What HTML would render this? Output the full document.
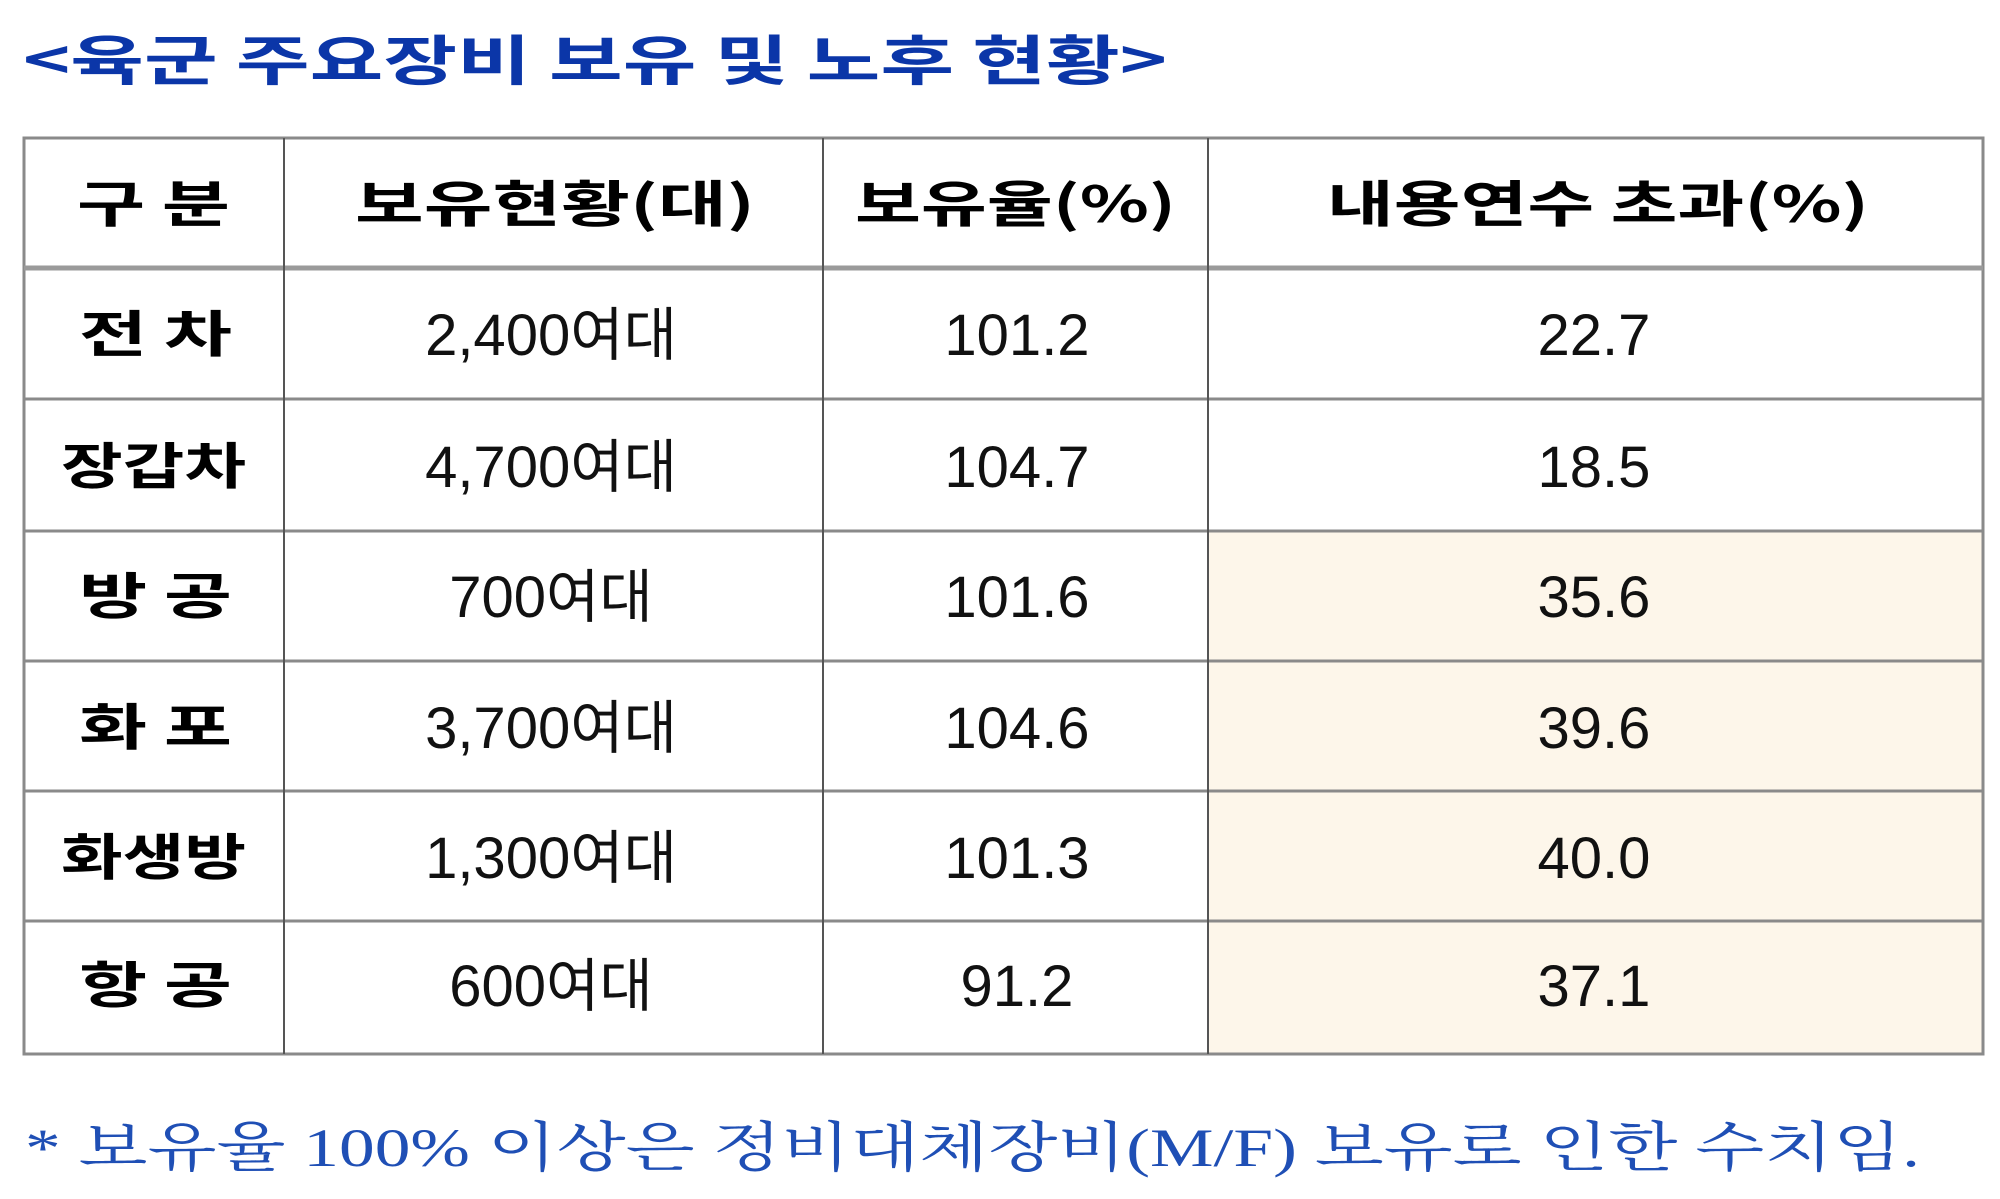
<!DOCTYPE html>
<html><head><meta charset="utf-8"><style>
html,body{margin:0;padding:0;background:#fff;}
svg{display:block;}
</style></head><body>
<svg width="2000" height="1199" viewBox="0 0 2000 1199" xmlns="http://www.w3.org/2000/svg">
<rect width="2000" height="1199" fill="#fff"/>
<text x="23" y="80" font-family="'Noto Sans CJK KR',sans-serif" font-weight="bold" font-size="54" fill="#0b36a8" textLength="1144" lengthAdjust="spacingAndGlyphs">&lt;육군 주요장비 보유 및 노후 현황&gt;</text>
<!-- highlighted cells -->
<rect x="1209" y="531" width="774" height="523" fill="#fdf6ea"/>
<!-- grid -->
<g stroke="#8a8a8a" stroke-width="3" fill="none">
<rect x="24" y="138" width="1959" height="916"/>
<line x1="24" y1="268" x2="1983" y2="268" stroke-width="5" stroke="#9a9a9a"/>
<line x1="24" y1="399" x2="1983" y2="399"/>
<line x1="24" y1="531" x2="1983" y2="531"/>
<line x1="24" y1="661" x2="1983" y2="661"/>
<line x1="24" y1="791" x2="1983" y2="791"/>
<line x1="24" y1="921" x2="1983" y2="921"/>
</g>
<g stroke="#555" stroke-width="2">
<line x1="284" y1="138" x2="284" y2="1054"/>
<line x1="823" y1="138" x2="823" y2="1054"/>
<line x1="1208" y1="138" x2="1208" y2="1054"/>
</g>
<!-- header -->
<g font-family="'Noto Sans CJK KR',sans-serif" font-weight="bold" font-size="50" fill="#000">
<text x="77" y="222" textLength="153" lengthAdjust="spacingAndGlyphs">구 분</text>
<text x="355" y="222" textLength="400" lengthAdjust="spacingAndGlyphs">보유현황(대)</text>
<text x="855" y="222" textLength="321" lengthAdjust="spacingAndGlyphs">보유율(%)</text>
<text x="1327" y="222" textLength="542" lengthAdjust="spacingAndGlyphs">내용연수 초과(%)</text>
<text x="79" y="352" textLength="153" lengthAdjust="spacingAndGlyphs">전 차</text>
<text x="61" y="484" textLength="185" lengthAdjust="spacingAndGlyphs">장갑차</text>
<text x="79" y="614" textLength="153" lengthAdjust="spacingAndGlyphs">방 공</text>
<text x="79" y="745" textLength="153" lengthAdjust="spacingAndGlyphs">화 포</text>
<text x="61" y="875" textLength="185" lengthAdjust="spacingAndGlyphs">화생방</text>
<text x="79" y="1003" textLength="153" lengthAdjust="spacingAndGlyphs">항 공</text>
</g>
<g font-family="'Liberation Sans','Noto Sans CJK KR',sans-serif" font-size="58" fill="#111" text-anchor="middle">
<text x="551" y="355">2,400여대</text>
<text x="551" y="487">4,700여대</text>
<text x="551" y="617">700여대</text>
<text x="551" y="748">3,700여대</text>
<text x="551" y="878">1,300여대</text>
<text x="551" y="1006">600여대</text>
<text x="1017" y="355">101.2</text>
<text x="1017" y="487">104.7</text>
<text x="1017" y="617">101.6</text>
<text x="1017" y="748">104.6</text>
<text x="1017" y="878">101.3</text>
<text x="1017" y="1006">91.2</text>
<text x="1594" y="355">22.7</text>
<text x="1594" y="487">18.5</text>
<text x="1594" y="617">35.6</text>
<text x="1594" y="748">39.6</text>
<text x="1594" y="878">40.0</text>
<text x="1594" y="1006">37.1</text>
</g>
<text x="25" y="1166" font-family="'Liberation Serif','Noto Serif CJK SC',serif" font-size="54" fill="#1f4fb5" textLength="1895" lengthAdjust="spacingAndGlyphs">* 보유율 100% 이상은 정비대체장비(M/F) 보유로 인한 수치임.</text>
</svg>
</body></html>
